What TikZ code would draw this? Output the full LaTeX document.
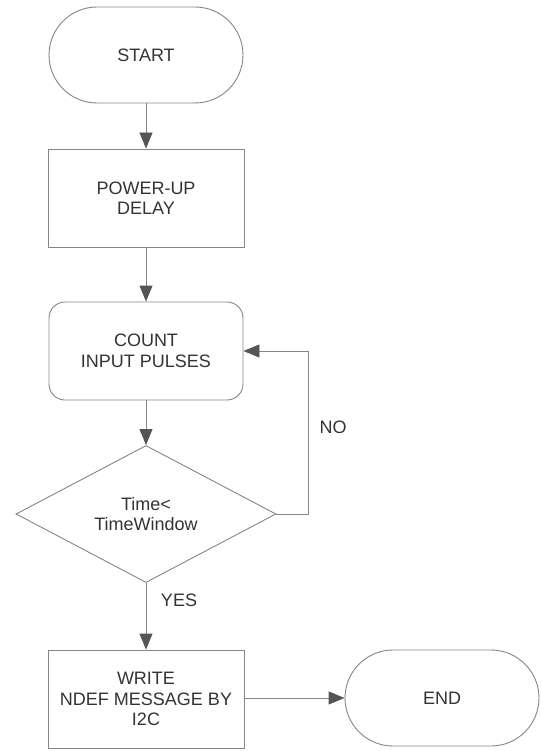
\documentclass[tikz,border=0pt]{standalone}
\usepackage{fontspec}
\setmainfont{Liberation Sans}
\usetikzlibrary{arrows.meta,shapes.geometric}
\definecolor{linegray}{HTML}{858585}
\definecolor{headgray}{HTML}{555555}
\definecolor{textgray}{HTML}{333333}
\begin{document}
\begin{tikzpicture}[x=1pt,y=-1pt,
  every node/.style={font=\fontsize{18}{20.5}\selectfont, text=textgray, align=center},
  box/.style={draw=linegray, line width=0.9pt, minimum width=196pt, minimum height=98pt, inner sep=0pt},
  term/.style={box, rounded corners=48pt},
  roundbox/.style={box, rounded corners=16pt},
  decision/.style={draw=linegray, line width=0.9pt, diamond, minimum width=260pt, minimum height=127pt, inner sep=0pt},
  arr/.style={draw=linegray, line width=0.9pt, -{Triangle[length=16pt,width=13pt,fill=headgray,color=headgray]}},
  lbl/.style={font=\fontsize{18}{20.5}\selectfont}
]
\useasboundingbox (0,0) rectangle (540,751);
\node[term, minimum width=194pt, minimum height=96pt] (start) at (146,55) {START};
\node[box] (pud) at (146,198) {POWER-UP\\DELAY};
\node[roundbox, minimum width=194pt] (count) at (146,351) {COUNT\\INPUT PULSES};
\node[decision] (dec) at (146,514) {Time<\\TimeWindow};
\node[box] (write) at (146,699) {WRITE\\NDEF MESSAGE BY\\I2C};
\node[term, minimum width=194pt, minimum height=96pt] (end) at (442,698) {END};
\draw[arr] (start) -- (pud);
\draw[arr] (pud) -- (count);
\draw[arr] (count) -- (dec);
\draw[arr] (dec) -- (write);
\draw[arr] (write.east |- end.west) -- (end.west);
\draw[arr] (dec.east) -- ++(32,0) |- (count.east);
\node[lbl] (no) at (333,427) {NO};
\node[lbl] (yes) at (179,600) {YES};
\end{tikzpicture}
\end{document}
